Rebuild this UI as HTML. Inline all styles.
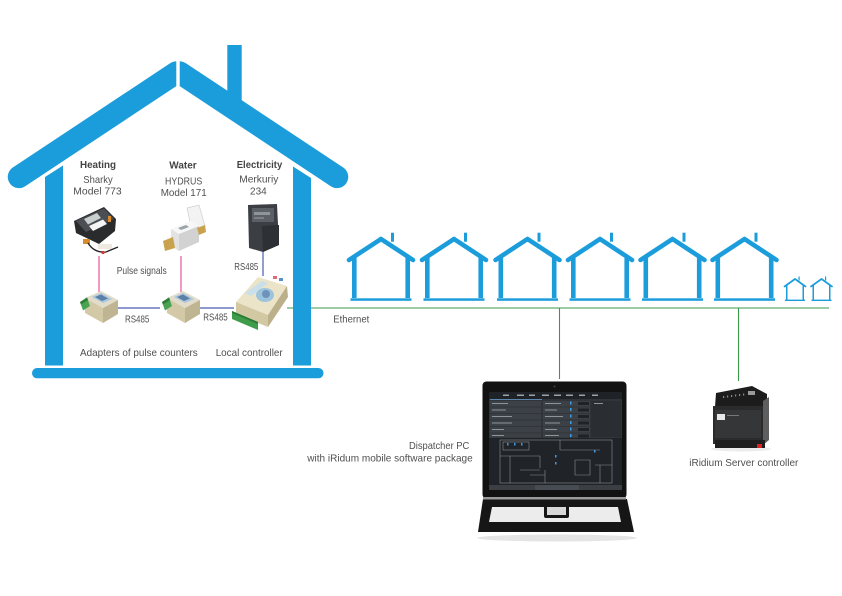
<!DOCTYPE html>
<html><head><meta charset="utf-8"><style>
html,body{margin:0;padding:0;background:#fff;}
svg{display:block;}
text{font-family:"Liberation Sans",Arial,sans-serif;fill:#4f4f4f;font-size:10.3px;}
.b{font-weight:bold;fill:#444;font-size:10.5px;}
.h{font-size:10.5px;}
</style></head><body>
<svg width="842" height="596" viewBox="0 0 842 596" xmlns="http://www.w3.org/2000/svg">
<defs>
<clipPath id="cl"><rect x="0" y="0" width="176.3" height="300"/></clipPath>
<clipPath id="cr"><rect x="179.7" y="0" width="300" height="300"/></clipPath>
<g id="sh">
  <line x1="0" y1="0" x2="-32" y2="21" stroke="#1b9ddb" stroke-width="4.6" stroke-linecap="round"/>
  <line x1="0" y1="0" x2="32" y2="21" stroke="#1b9ddb" stroke-width="4.6" stroke-linecap="round"/>
  <rect x="10" y="-6.3" width="3" height="9" fill="#1b9ddb"/>
  <rect x="-29" y="18" width="4.6" height="41" fill="#1b9ddb"/>
  <rect x="24.4" y="18" width="4.6" height="41" fill="#1b9ddb"/>
  <rect x="-30.5" y="59.3" width="61" height="2.5" fill="#1b9ddb"/>
</g>
<g id="th">
  <line x1="0" y1="0" x2="-10.5" y2="7.5" stroke="#1b9ddb" stroke-width="1.7" stroke-linecap="round"/>
  <line x1="0" y1="0" x2="10.5" y2="7.5" stroke="#1b9ddb" stroke-width="1.7" stroke-linecap="round"/>
  <rect x="3.5" y="-2.5" width="1.2" height="4" fill="#1b9ddb"/>
  <rect x="-9" y="6" width="1.5" height="15" fill="#1b9ddb"/>
  <rect x="7.5" y="6" width="1.5" height="15" fill="#1b9ddb"/>
  <rect x="-10" y="20.6" width="20" height="1.4" fill="#1b9ddb"/>
</g>
<g id="adp">
  <polygon points="85,298 101,291 118,300 103,308" fill="#e2dccb"/>
  <polygon points="92,297 101,293 112,299 103,303" fill="#a9c6dd"/>
  <polygon points="95,297 101,294.5 108,298.5 102,301" fill="#5b7fa6"/>
  <polygon points="85,298 103,308 103,323 85,313" fill="#d3c9a7"/>
  <polygon points="103,308 118,300 118,314 103,323" fill="#bfb592"/>
  <polygon points="80,302 87,297.5 90,306 83,310.5" fill="#48a452"/>
  <polygon points="80,302 87,297.5 88,300 81,304.5" fill="#2f7d3a"/>
</g>
</defs>

<!-- connector lines -->
<line x1="287" y1="308" x2="829" y2="308" stroke="#3a9a4c" stroke-width="1.1"/>
<line x1="559.5" y1="308" x2="559.5" y2="379" stroke="#3a9a4c" stroke-width="1.1"/>
<line x1="738.5" y1="308" x2="738.5" y2="381" stroke="#3a9a4c" stroke-width="1.1"/>
<line x1="118" y1="308" x2="160" y2="308" stroke="#4a5cb0" stroke-width="1.2"/>
<line x1="199" y1="308" x2="234" y2="308" stroke="#4a5cb0" stroke-width="1.2"/>
<line x1="263" y1="251" x2="263" y2="276" stroke="#4a5cb0" stroke-width="1.2"/>
<line x1="99" y1="256" x2="99" y2="292" stroke="#e8559b" stroke-width="1.2"/>
<line x1="181" y1="256" x2="181" y2="292" stroke="#e8559b" stroke-width="1.2"/>

<!-- big house -->
<g fill="#1b9ddb">
  <rect x="227.3" y="45" width="14.4" height="62"/>
  <line x1="176.5" y1="72.5" x2="19" y2="176.9" stroke="#1b9ddb" stroke-width="22.5" stroke-linecap="round" clip-path="url(#cl)"/>
  <line x1="179.5" y1="72.5" x2="337" y2="176.9" stroke="#1b9ddb" stroke-width="22.5" stroke-linecap="round" clip-path="url(#cr)"/>
  <polygon points="45,177 63,165.5 63,365.5 45,365.5"/>
  <polygon points="293,166.5 311,178 311,365.5 293,365.5"/>
  <rect x="32" y="368" width="291.5" height="10.3" rx="5"/>
</g>

<!-- small houses -->
<use href="#sh" transform="translate(381,239)"/>
<use href="#sh" transform="translate(454,239)"/>
<use href="#sh" transform="translate(527.5,239)"/>
<use href="#sh" transform="translate(600,239)"/>
<use href="#sh" transform="translate(672.5,239)"/>
<use href="#sh" transform="translate(744.5,239)"/>
<use href="#th" transform="translate(795,279)"/>
<use href="#th" transform="translate(821.5,279)"/>

<!-- heat meter -->
<g>
  <polygon points="74,221 104,207 116,219 115,231 99,244 76,233" fill="#2a2b2d"/>
  <polygon points="76,221 104,208.5 114,219 86,232" fill="#4b4e52"/>
  <polygon points="84,219 97,213 101,218 88,224.5" fill="#c8cdce"/>
  <polygon points="89,226 103,219.5 107,224 93,231" fill="#f4f4f4"/>
  <rect x="83" y="239" width="7" height="5" fill="#d98a2b"/>
  <rect x="98" y="244" width="14" height="5" fill="#eeeae0"/>
  <path d="M88,243 Q94,253 106,252 L118,247" stroke="#222" fill="none" stroke-width="1.3"/>
  <circle cx="103" cy="252.5" r="1.6" fill="#d33"/>
  <rect x="108" y="216" width="3" height="6" fill="#d98a2b"/>
</g>

<!-- water meter -->
<g>
  <polygon points="187,208 199,205 205,226 192,231" fill="#f3f3f3" stroke="#cfcfcf" stroke-width="0.7"/>
  <polygon points="171,229 191,221 199,226 179,234" fill="#f7f7f7"/>
  <polygon points="171,229 179,234 179,251 171,246" fill="#e2e2e2"/>
  <polygon points="179,234 199,226 199,242 179,251" fill="#d2d2d2"/>
  <polygon points="178,228 186,225 189,227 181,230" fill="#9aa3a8"/>
  <polygon points="163,241 173,237 175,248 165,251" fill="#c9a24e"/>
  <polygon points="197,228 205,225 206,232 199,235" fill="#c9a24e"/>
</g>

<!-- electricity meter -->
<g>
  <polygon points="248,205 277,204 279,245 263,252 249,248" fill="#3b3e43"/>
  <rect x="252" y="208" width="22" height="14" fill="#5b6067"/>
  <rect x="254" y="212" width="16" height="3" fill="#8e949a"/>
  <rect x="254" y="217" width="10" height="2" fill="#7a8086"/>
  <polygon points="262,226 279,225 279,245 263,252" fill="#2d3034"/>
</g>

<!-- adapters -->
<use href="#adp"/>
<use href="#adp" transform="translate(82,0)"/>

<!-- local controller -->
<g>
  <polygon points="236,302 258,277 287,286 268,315" fill="#ebe4c8"/>
  <ellipse cx="265" cy="295" rx="9" ry="7" fill="#9cc4dc"/>
  <ellipse cx="266" cy="294" rx="4" ry="4" fill="#6f93b8"/>
  <polygon points="245,293 262,281 268,283 251,296" fill="#c9dfe9"/>
  <polygon points="236,302 268,315 268,327 236,314" fill="#d2c8a2"/>
  <polygon points="268,315 287,286 288,297 268,327" fill="#bbb08a"/>
  <polygon points="232,311 258,322 258,330 232,319" fill="#3f9c4a"/>
  <polygon points="232,311 258,322 258,324 232,313" fill="#2d7a37"/>
  <rect x="273" y="276" width="4" height="3" fill="#e06a7a"/>
  <rect x="279" y="278" width="4" height="3" fill="#5a8fd0"/>
</g>

<!-- PC -->
<g>
  <ellipse cx="557" cy="538" rx="80" ry="3.5" fill="#e4e4e4"/>
  <polygon points="483,499 627,499 634,532 478,532" fill="#161616"/>
  <polygon points="492,507 618,507 621,522 489,522" fill="#ececec"/>
  <rect x="544" y="505" width="25" height="13" rx="2" fill="#161616"/>
  <rect x="547" y="507" width="19" height="8" fill="#d8d8d8"/>
  <rect x="482.5" y="381.5" width="144" height="117" rx="4" fill="#121212"/>
  <rect x="483" y="497" width="143" height="2.5" fill="#9a9a9a"/>
  <circle cx="554.5" cy="386.5" r="1" fill="#444"/>
  <rect x="489" y="392" width="133" height="98" fill="#31353a"/>
  <rect x="489" y="392" width="133" height="7" fill="#1f2226"/>
  <g fill="#9aa2a8">
    <rect x="503" y="394.5" width="6" height="1.5"/><rect x="517" y="394.5" width="7" height="1.5"/>
    <rect x="529" y="394.5" width="6" height="1.5"/><rect x="542" y="394.5" width="7" height="1.5"/>
    <rect x="554" y="394.5" width="7" height="1.5"/><rect x="566" y="394.5" width="7" height="1.5"/>
    <rect x="579" y="394.5" width="6" height="1.5"/><rect x="592" y="394.5" width="6" height="1.5"/>
  </g>
  <rect x="490" y="399" width="52" height="0.8" fill="#6a9ac8"/>
  <g fill="#3c4147">
    <rect x="490" y="401" width="51" height="5.5"/><rect x="490" y="407.5" width="51" height="5.5"/>
    <rect x="490" y="414" width="51" height="5.5"/><rect x="490" y="420.5" width="51" height="5.5"/>
    <rect x="490" y="427" width="51" height="5.5"/><rect x="490" y="433.5" width="51" height="4"/>
    <rect x="543" y="401" width="47" height="5.5"/><rect x="543" y="407.5" width="47" height="5.5"/>
    <rect x="543" y="414" width="47" height="5.5"/><rect x="543" y="420.5" width="47" height="5.5"/>
    <rect x="543" y="427" width="47" height="5.5"/><rect x="543" y="433.5" width="47" height="4"/>
  </g>
  <rect x="591" y="401" width="30" height="36" fill="#2a2e32"/>
  <g fill="#8c949a">
    <rect x="492" y="403" width="16" height="1"/><rect x="492" y="409.5" width="14" height="1"/>
    <rect x="492" y="416" width="20" height="1"/><rect x="492" y="422.5" width="20" height="1"/>
    <rect x="492" y="429" width="12" height="1"/><rect x="492" y="435" width="12" height="1"/>
    <rect x="545" y="403" width="16" height="1"/><rect x="545" y="409.5" width="12" height="1"/>
    <rect x="545" y="416" width="18" height="1"/><rect x="545" y="422.5" width="15" height="1"/>
    <rect x="545" y="429" width="12" height="1"/><rect x="545" y="435" width="14" height="1"/>
    <rect x="594" y="403" width="9" height="1"/>
  </g>
  <g fill="#3f9ae0">
    <rect x="570" y="401.5" width="1.5" height="3"/><rect x="570" y="408" width="1.5" height="3"/>
    <rect x="570" y="414.5" width="1.5" height="3"/><rect x="570" y="421" width="1.5" height="3"/>
    <rect x="570" y="427.5" width="1.5" height="3"/><rect x="570" y="434" width="1.5" height="3"/>
  </g>
  <g fill="#202326">
    <rect x="578" y="402" width="11" height="3"/><rect x="578" y="408.5" width="11" height="3"/>
    <rect x="578" y="415" width="11" height="3"/><rect x="578" y="421.5" width="11" height="3"/>
    <rect x="578" y="428" width="11" height="3"/><rect x="578" y="434.5" width="11" height="3"/>
  </g>
  <rect x="489" y="438" width="133" height="47" fill="#202327"/>
  <g fill="none" stroke="#8a9095" stroke-width="0.6">
    <rect x="500" y="440" width="112" height="43"/>
    <rect x="503" y="442" width="26" height="8"/>
    <path d="M500,456 H540 V468 M510,456 V483 M520,470 H540 M560,440 V450 H600 M575,460 H590 V475 H575 Z M595,465 H612 M600,465 V483 M545,470 V483 M530,475 H545"/>
  </g>
  <g fill="#3f9ae0">
    <rect x="507" y="443" width="1.5" height="2.5"/><rect x="514" y="443" width="1.5" height="2.5"/>
    <rect x="521" y="443" width="1.5" height="2.5"/><rect x="555" y="455" width="1.5" height="2.5"/>
    <rect x="555" y="462" width="1.5" height="2.5"/><rect x="594" y="450" width="1.5" height="2.5"/>
  </g>
  <rect x="489" y="485" width="133" height="5" fill="#3b3f44"/>
  <rect x="535" y="485" width="44" height="5" fill="#474c52"/>
</g>

<!-- server -->
<g>
  <ellipse cx="741" cy="449" rx="30" ry="2.5" fill="#ececec"/>
  <polygon points="716,393 752,386 767,394 767,406 715,407" fill="#1c1c1c"/>
  <g fill="#8a8a8a">
    <rect x="723" y="396" width="1.2" height="2"/><rect x="727" y="395.5" width="1.2" height="2"/>
    <rect x="731" y="395" width="1.2" height="2"/><rect x="735" y="394.5" width="1.2" height="2"/>
    <rect x="739" y="394" width="1.2" height="2"/><rect x="743" y="393.5" width="1.2" height="2"/>
  </g>
  <rect x="748" y="391" width="7" height="4" fill="#9a9a9a"/>
  <rect x="713" y="406" width="50" height="38" fill="#2b2b2b"/>
  <rect x="715" y="410" width="46" height="28" fill="#353637"/>
  <rect x="717" y="414" width="8" height="6" fill="#e8e8e8"/>
  <rect x="727" y="415" width="12" height="1" fill="#777"/>
  <polygon points="763,401 769,397 769,440 763,445" fill="#5e5e5e"/>
  <rect x="715" y="440" width="50" height="8" fill="#1e1e1e"/>
  <rect x="757" y="444" width="5" height="4" fill="#d22"/>
</g>

<!-- labels -->
<text class="b" x="80" y="168" textLength="36" lengthAdjust="spacingAndGlyphs">Heating</text>
<text class="h" x="83.3" y="183" textLength="29.4" lengthAdjust="spacingAndGlyphs">Sharky</text>
<text class="h" x="73.3" y="194.3" textLength="48.4" lengthAdjust="spacingAndGlyphs">Model 773</text>
<text class="b" x="169.3" y="168.7" textLength="27.4" lengthAdjust="spacingAndGlyphs">Water</text>
<text class="h" x="165" y="184.3" textLength="37.3" lengthAdjust="spacingAndGlyphs">HYDRUS</text>
<text class="h" x="160.7" y="196" textLength="46" lengthAdjust="spacingAndGlyphs">Model 171</text>
<text class="b" x="236.7" y="168" textLength="45.6" lengthAdjust="spacingAndGlyphs">Electricity</text>
<text class="h" x="239.3" y="182.7" textLength="39" lengthAdjust="spacingAndGlyphs">Merkuriy</text>
<text class="h" x="250" y="194.3" textLength="16.7" lengthAdjust="spacingAndGlyphs">234</text>
<text x="116.7" y="274" textLength="50" lengthAdjust="spacingAndGlyphs">Pulse signals</text>
<text x="234.3" y="270" textLength="24" lengthAdjust="spacingAndGlyphs">RS485</text>
<text x="125" y="322.3" textLength="24.3" lengthAdjust="spacingAndGlyphs">RS485</text>
<text x="203.3" y="320.7" textLength="24.4" lengthAdjust="spacingAndGlyphs">RS485</text>
<text x="80" y="356" textLength="117.7" lengthAdjust="spacingAndGlyphs">Adapters of pulse counters</text>
<text x="215.7" y="356" textLength="67" lengthAdjust="spacingAndGlyphs">Local controller</text>
<text x="333.3" y="322.3" textLength="36" lengthAdjust="spacingAndGlyphs">Ethernet</text>
<text x="409" y="449" textLength="60.3" lengthAdjust="spacingAndGlyphs">Dispatcher PC</text>
<text x="307.3" y="461.7" textLength="165.4" lengthAdjust="spacingAndGlyphs">with iRidum mobile software package</text>
<text x="689.3" y="466" textLength="109" lengthAdjust="spacingAndGlyphs">iRidium Server controller</text>
</svg>
</body></html>
